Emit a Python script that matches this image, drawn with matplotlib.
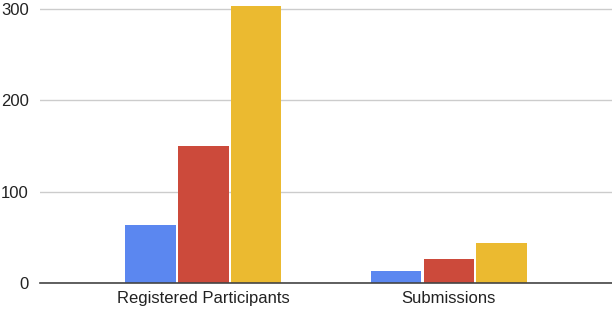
import matplotlib
matplotlib.use("Agg")
import matplotlib.pyplot as plt
import numpy as np

categories = ["Registered Participants", "Submissions"]
series_a = [63, 13]
series_b = [150, 26]
series_c = [303, 44]
yticks = [0, 100, 200, 300]

colors = ["#5b87f0", "#cc4a3b", "#ebba30"]

fig = plt.figure(figsize=(6.12, 3.10), dpi=100)
ax = fig.add_axes([40/612, 27/310, 572/612, 283/310])
plt.rcParams['font.family'] = ['Liberation Sans', 'DejaVu Sans']

x = np.arange(len(categories))
w = 0.205
stride = 0.216
for i, (vals, c) in enumerate(zip([series_a, series_b, series_c], colors)):
    ax.bar(x + (i - 1) * stride, vals, width=w, color=c, zorder=3, clip_on=False)

ax.set_xlim(-0.666, 1.666)
ax.set_ylim(0, 310)
ax.set_yticks(yticks)
ax.set_yticklabels([str(t) for t in yticks], fontsize=12, color="#222222", family=['Liberation Sans'])
ax.set_xticks(x)
ax.set_xticklabels(categories, fontsize=12, color="#222222", family=['Liberation Sans'])
ax.tick_params(axis='both', length=0)
ax.tick_params(axis='y', pad=8)
ax.tick_params(axis='x', pad=6)
ax.grid(axis='y', color="#cccccc", linewidth=1, zorder=0)
for s in ["top", "right", "left"]:
    ax.spines[s].set_visible(False)
ax.spines["bottom"].set_color("#444444")
ax.spines["bottom"].set_linewidth(1.2)
ax.spines["bottom"].set_zorder(4)

fig.savefig("out.png", dpi=100)
